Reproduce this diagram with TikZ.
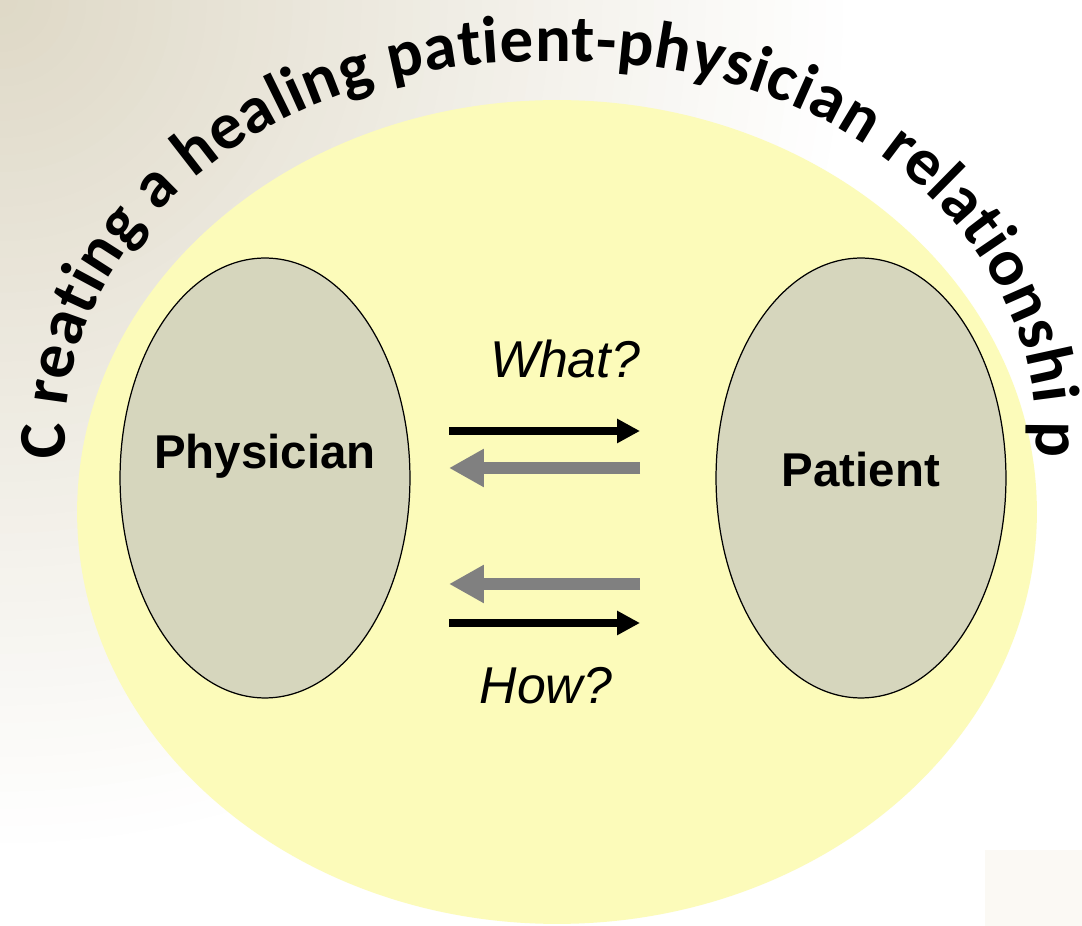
\documentclass[tikz,border=0pt]{standalone}
\usepackage{fontspec}
\setmainfont{Liberation Sans}
\newfontfamily\arcfont{Carlito}
\usetikzlibrary{shapes.geometric,arrows.meta,decorations.text}
\definecolor{bgbeige}{RGB}{222,216,198}
\definecolor{paleyellow}{RGB}{252,251,186}
\definecolor{ovalgray}{RGB}{214,214,189}
\definecolor{arrowgray}{RGB}{128,128,128}
\definecolor{cornertint}{RGB}{251,249,244}
\begin{document}
\begin{tikzpicture}[x=0.02cm,y=0.02cm,
  party/.style={ellipse, draw=black, line width=0.7pt, fill=ovalgray, inner sep=0pt,
                minimum width=5.8cm, minimum height=8.8cm},
  partylabel/.style={font=\bfseries\fontsize{27}{30}\selectfont, anchor=base, inner sep=0pt},
  question/.style={font=\itshape\fontsize{29.5}{32}\selectfont, anchor=base, inner sep=0pt},
  blackarrow/.style={draw=black, line width=0.16cm, -{Triangle[length=0.46cm,width=0.46cm]}},
  grayarrow/.style={draw=arrowgray, line width=0.24cm, -{Triangle[length=0.7cm,width=0.72cm]}}]
\useasboundingbox (0,0) rectangle (1082,926);
\begin{scope}
  \clip (0,0) rectangle (1082,926);
  \fill[white] (0,0) rectangle (1082,926);
  \foreach \i in {0,...,49}{
    \pgfmathsetmacro{\rad}{860*(1-\i/50)}
    \pgfmathsetmacro{\wp}{100*(1-\i/50)}
    \fill[white!\wp!bgbeige] (0,926) circle[radius=\rad];
  }
  \fill[cornertint] (985,0) rectangle (1082,76);
\end{scope}
% big field
\node[ellipse, fill=paleyellow, inner sep=0pt, minimum width=19.2cm, minimum height=16.48cm] (field) at (557,414) {};
% curved title
\path[decorate, decoration={text along path,
    text={|\arcfont\bfseries\fontsize{38}{40}\selectfont|C reating a healing patient-physician relationshi p},
    text align={fit to path}}]
  (532,490) ++(183.4:467 and 374)
  arc[start angle=183.4, end angle=90, x radius=467, y radius=374]
  -- (578,864)
  arc[start angle=90, end angle=-3.2, x radius=458, y radius=374];
% parties
\node[party] (phys) at (265,448) {};
\node[party] (pat) at (861,448) {};
\node[partylabel] (physt) at (265,457) {Physician};
\node[partylabel] (patt) at (861,439) {Patient};
% questions
\node[question] (what) at (565,548) {What?};
\node[question] (how) at (546,222) {How?};
% arrows
\coordinate (a1s) at (449,495); \coordinate (a1e) at (640,495);
\coordinate (a2s) at (640,458); \coordinate (a2e) at (449,458);
\coordinate (a3s) at (640,342); \coordinate (a3e) at (449,342);
\coordinate (a4s) at (449,303); \coordinate (a4e) at (640,303);
\draw[blackarrow] (a1s) -- (a1e);
\draw[grayarrow] (a2s) -- (a2e);
\draw[grayarrow] (a3s) -- (a3e);
\draw[blackarrow] (a4s) -- (a4e);
\end{tikzpicture}
\end{document}
